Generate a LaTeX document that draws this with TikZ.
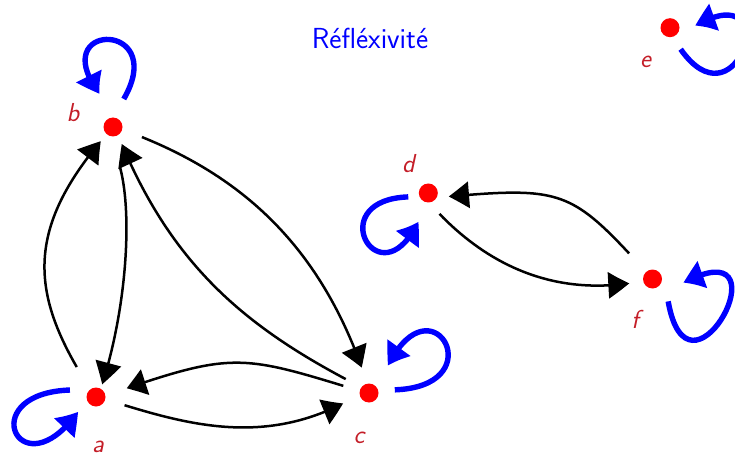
\documentclass[tikz,border=0pt]{standalone}
\usetikzlibrary{arrows.meta,bending,calc}
\definecolor{dotred}{RGB}{255,0,0}
\definecolor{lblred}{RGB}{196,30,40}
\definecolor{loopblue}{RGB}{0,0,255}
\begin{document}
\begin{tikzpicture}[x=1pt,y=1pt,
  dot/.style={circle,fill=dotred,draw=none,minimum size=19pt,inner sep=0pt},
  lbl/.style={anchor=base,text=lblred,font=\fontsize{26}{30}\selectfont\sffamily\itshape},
  heading/.style={anchor=base,text=loopblue,font=\fontsize{29}{33}\selectfont\sffamily},
  arc edge/.style={draw=black,line width=2.5pt,-{Triangle[length=22pt,width=26pt,bend]}},
  selfloop/.style={draw=loopblue,line width=5.4pt,-{Triangle[length=23pt,width=26pt,bend]}}]
\useasboundingbox (0,0) rectangle (735,-454);
\clip (0,0) rectangle (735,-454);

% title
\node[heading] (title) at (370,-49) {Réfléxivité};

% vertices
\node[dot] (a) at (96,-397) {};
\node[dot] (b) at (113,-127) {};
\node[dot] (c) at (369,-393) {};
\node[dot] (d) at (428.3,-193) {};
\node[dot] (e) at (670,-27.7) {};
\node[dot] (f) at (652.5,-279) {};

% vertex names
\node[lbl] (la) at (98,-452) {a};
\node[lbl] (lb) at (73,-122) {b};
\node[lbl] (lc) at (359,-443) {c};
\node[lbl] (ld) at (408.5,-173) {d};
\node[lbl] (le) at (645.5,-68) {e};
\node[lbl] (lf) at (635,-328) {f};

% arcs between distinct vertices
\draw[arc edge,shorten <=26pt,shorten >=9pt] (a.130) to[out=120,in=229,looseness=1.2] (b.229);
\draw[arc edge,shorten <=32pt,shorten >=4.5pt] (b.263) to[out=285,in=72,looseness=0.85] (a.60);
\draw[arc edge,shorten <=17.5pt,shorten >=9.5pt] (c.144) to[out=152,in=292] (b.302);
\draw[arc edge,shorten <=21pt,shorten >=17pt] (b.-13) to[out=-22,in=108] (c.101);
\draw[arc edge,shorten <=17pt,shorten >=23pt] (c.167) to[out=163,in=19,looseness=1.3] (a.9);
\draw[arc edge,shorten <=20pt,shorten >=19pt] (a.-14) to[out=-17,in=211] (c.188);
\draw[arc edge,shorten <=15.5pt,shorten >=14pt] (d.272) to[out=-46,in=191] (f.192);
\draw[arc edge,shorten <=25pt,shorten >=12pt] (f.131) to[out=133,in=5,looseness=1.35] (d.-28);

% self-loops
\draw[selfloop] ($(b)+(69:30)$) .. controls +(60:92) and +(128:92) .. ($(b)+(111.5:35.5)$);
\draw[selfloop] ($(a)+(165:27)$) .. controls +(182:98) and +(235:100) .. ($(a)+(219:23)$);
\draw[selfloop] ($(c)+(7:26)$) .. controls +(2:100) and +(64:100) .. ($(c)+(55:33)$);
\draw[selfloop] ($(d)+(191:20.4)$) .. controls +(182:88) and +(245:90) .. ($(d)+(250.6:30)$);
\draw[selfloop] ($(f)+(305:27.3)$) .. controls +(280:120) and +(28:122) .. ($(f)+(352.6:30.9)$);
\draw[selfloop] ($(e)+(296.3:24)$) .. controls +(305:100) and +(30:105) .. ($(e)+(3.9:25)$);
\end{tikzpicture}
\end{document}
